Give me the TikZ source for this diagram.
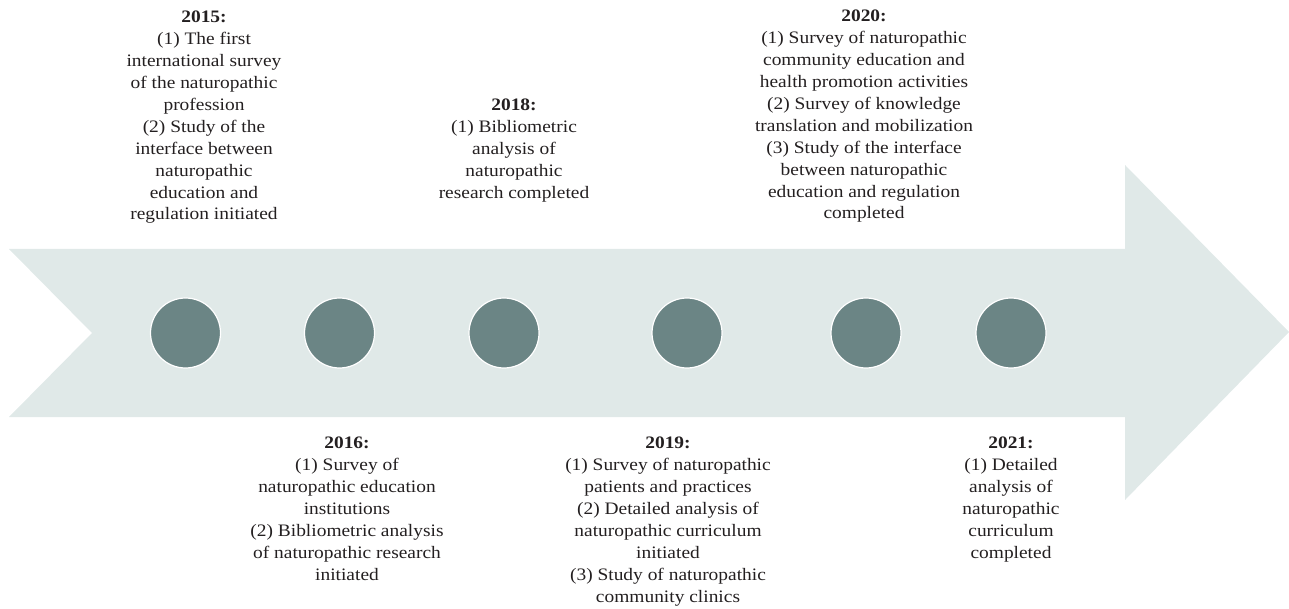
\documentclass[tikz,border=0pt]{standalone}
\usepackage{fontspec}
\setmainfont{Liberation Serif}[FakeStretch=1.11]
\definecolor{arrowfill}{HTML}{E0E9E8}
\definecolor{dotfill}{HTML}{6B8585}
\definecolor{txt}{HTML}{231F20}
\begin{document}
\begin{tikzpicture}[x=1pt,y=-1pt,
  dot/.style={circle,fill=dotfill,draw=white,line width=1.2pt,minimum size=70pt,inner sep=0pt},
  lbl/.style={anchor=north,align=center,inner sep=0pt,text=txt,font=\fontsize{17.5}{21.9}\selectfont}]
\useasboundingbox (0,0) rectangle (1289,609);
\fill[arrowfill] (9,249) -- (1125,249) -- (1125,165) -- (1289,332) -- (1125,500) -- (1125,417) -- (9,417) -- (92,333) -- cycle;
\node[dot] (d1) at (185.5,333) {};
\node[dot] (d2) at (339.5,333) {};
\node[dot] (d3) at (504,333) {};
\node[dot] (d4) at (687,333) {};
\node[dot] (d5) at (866,333) {};
\node[dot] (d6) at (1011,333) {};
\node[lbl] (t2015) at (204,11) {\textbf{2015:}\\(1) The first\\international survey\\of the naturopathic\\profession\\(2) Study of the\\interface between\\naturopathic\\education and\\regulation initiated};
\node[lbl] (t2018) at (514,99) {\textbf{2018:}\\(1) Bibliometric\\analysis of\\naturopathic\\research completed};
\node[lbl] (t2020) at (864,10) {\textbf{2020:}\\(1) Survey of naturopathic\\community education and\\health promotion activities\\(2) Survey of knowledge\\translation and mobilization\\(3) Study of the interface\\between naturopathic\\education and regulation\\completed};
\node[lbl] (t2016) at (347,437) {\textbf{2016:}\\(1) Survey of\\naturopathic education\\institutions\\(2) Bibliometric analysis\\of naturopathic research\\initiated};
\node[lbl] (t2019) at (668,437) {\textbf{2019:}\\(1) Survey of naturopathic\\patients and practices\\(2) Detailed analysis of\\naturopathic curriculum\\initiated\\(3) Study of naturopathic\\community clinics};
\node[lbl] (t2021) at (1011,437) {\textbf{2021:}\\(1) Detailed\\analysis of\\naturopathic\\curriculum\\completed};
\end{tikzpicture}
\end{document}
